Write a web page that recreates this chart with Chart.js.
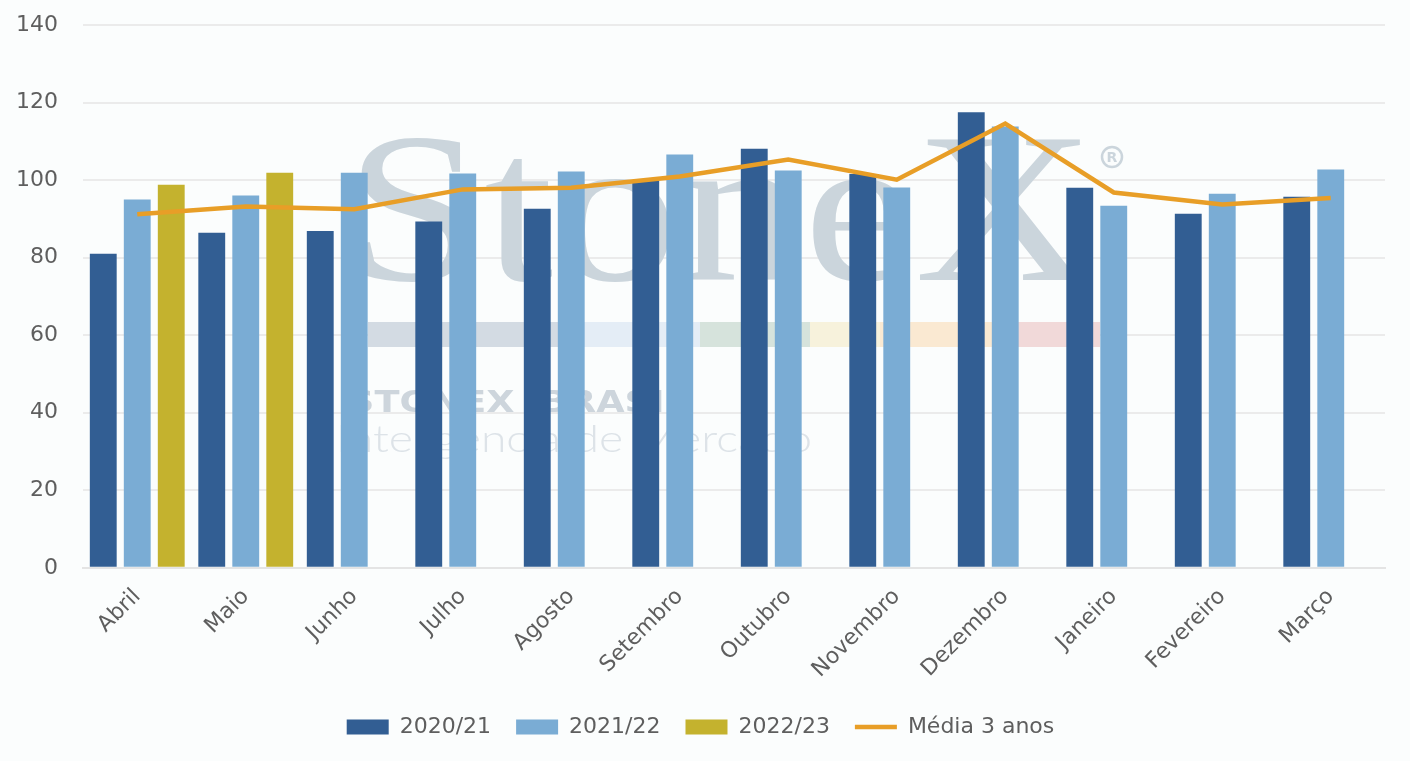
<!DOCTYPE html>
<html>
<head>
<meta charset="utf-8">
<script src="https://cdn.jsdelivr.net/npm/chart.js@4/dist/chart.umd.min.js"></script>
<style>
  html, body { margin: 0; padding: 0; background: #fbfdfd; }
  #wrap { width: 1410px; height: 761px; position: relative; }
</style>
</head>
<body>
<div id="wrap"><canvas id="chart"></canvas></div>
<script>
const months = ['Abril', 'Maio', 'Junho', 'Julho', 'Agosto', 'Setembro', 'Outubro', 'Novembro', 'Dezembro', 'Janeiro', 'Fevereiro', 'Março'];
const safra2021 = [81.0, 86.4, 86.9, 89.3, 92.6, 99.9, 108.1, 101.6, 117.5, 98.0, 91.3, 95.7];
const safra2122 = [95.0, 96.0, 101.9, 101.7, 102.2, 106.6, 102.5, 98.1, 113.8, 93.4, 96.5, 102.7];
const safra2223 = [98.8, 101.9, null, null, null, null, null, null, null, null, null, null];
const media3anos = [91.2, 93.2, 92.5, 97.6, 98.0, 100.9, 105.3, 100.1, 114.6, 96.8, 93.7, 95.4];

const FONT = '"DejaVu Sans", sans-serif';
const TEXT = '#5e5e5e';

// text squeezed/stretched to a given width
function fitText(ctx, txt, x, y, width) {
    const w = ctx.measureText(txt).width;
    ctx.save();
    ctx.translate(x, y);
    ctx.scale(width / w, 1);
    ctx.fillText(txt, 0, 0);
    ctx.restore();
}

// faint StoneX logo behind the bars
const watermark = {
    id: 'watermark',
    beforeDatasetsDraw(chart) {
        const ctx = chart.ctx;
        ctx.save();
        ctx.textBaseline = 'alphabetic';
        ctx.fillStyle = '#cbd5dc';
        ctx.font = '215px "Liberation Serif", serif';
        fitText(ctx, 'StoneX', 345, 280, 750);

        ctx.strokeStyle = '#cbd5dc';
        ctx.lineWidth = 2.5;
        ctx.beginPath();
        ctx.arc(1112, 157, 10, 0, Math.PI * 2);
        ctx.stroke();
        ctx.font = 'bold 14px ' + FONT;
        ctx.textAlign = 'center';
        ctx.textBaseline = 'middle';
        ctx.fillText('R', 1112, 158);

        const bands = [
            [368, 580, '#d3dbe3'], [580, 700, '#e4edf6'], [700, 810, '#d6e3dc'],
            [810, 880, '#f7f2dc'], [880, 1000, '#fae9d2'], [1000, 1100, '#f1d9d9']
        ];
        bands.forEach(b => {
            ctx.fillStyle = b[2];
            ctx.fillRect(b[0], 322, b[1] - b[0], 25);
        });

        ctx.textAlign = 'left';
        ctx.textBaseline = 'alphabetic';
        ctx.fillStyle = '#cdd5dc';
        ctx.font = 'bold 31px ' + FONT;
        fitText(ctx, 'STONEX  BRASIL', 348, 412, 340);
        ctx.fillStyle = '#dde3e8';
        ctx.font = '300 38px Lato, sans-serif';
        fitText(ctx, 'Inteligência de Mercado', 336, 452, 476);
        ctx.restore();
    }
};

const noOverhang = scale => {
    scale.paddingLeft = 0;
    scale.paddingRight = 0;
    scale.paddingTop = 0;
    scale.paddingBottom = 0;
};

new Chart(document.getElementById('chart'), {
    type: 'bar',
    data: {
        labels: months,
        datasets: [
            {
                type: 'line',
                label: 'Média 3 anos',
                data: media3anos,
                borderColor: '#e89e27',
                backgroundColor: '#e89e27',
                borderWidth: 4.5,
                pointRadius: 0,
                tension: 0,
                pointStyle: 'line',
                order: 0
            },
            { label: '2020/21', data: safra2021, backgroundColor: '#325e93', pointStyle: 'rect', order: 1 },
            { label: '2021/22', data: safra2122, backgroundColor: '#7aacd4', pointStyle: 'rect', order: 1 },
            { label: '2022/23', data: safra2223, backgroundColor: '#c4b22e', pointStyle: 'rect', order: 1 }
        ]
    },
    options: {
        responsive: true,
        maintainAspectRatio: false,
        animation: false,
        layout: { padding: { top: 25, right: 25, left: 16, bottom: 13 } },
        datasets: {
            bar: { barPercentage: 0.79, categoryPercentage: 0.94 }
        },
        plugins: {
            tooltip: { enabled: false },
            legend: {
                position: 'bottom',
                labels: {
                    usePointStyle: true,
                    pointStyleWidth: 42,
                    boxHeight: 15,
                    padding: 25,
                    color: TEXT,
                    font: { family: FONT, size: 22 },
                    sort: (a, b) => (a.datasetIndex === 0) - (b.datasetIndex === 0) || a.datasetIndex - b.datasetIndex
                }
            }
        },
        scales: {
            x: {
                afterFit: noOverhang,
                grid: { display: false },
                border: { display: true, color: '#e4e4e4', width: 2 },
                ticks: {
                    color: TEXT,
                    font: { family: FONT, size: 22 },
                    maxRotation: 45,
                    minRotation: 45,
                    padding: 8
                }
            },
            y: {
                afterFit: scale => {
                    noOverhang(scale);
                    scale.width = 67;
                },
                min: 0,
                max: 140,
                ticks: {
                    stepSize: 20,
                    color: TEXT,
                    font: { family: FONT, size: 22 },
                    padding: 25
                },
                grid: { color: '#ebebeb', lineWidth: 2, drawTicks: false },
                border: { display: false }
            }
        }
    },
    plugins: [watermark]
});
</script>
</body>
</html>
